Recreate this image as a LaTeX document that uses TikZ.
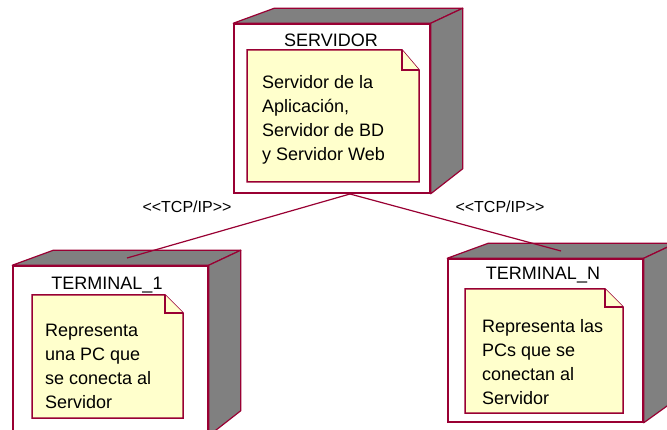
\documentclass[tikz,border=0pt]{standalone}
\usepackage{fontspec}
\setmainfont{Liberation Sans}
\usetikzlibrary{positioning, calc}
\definecolor{nodered}{RGB}{153, 0, 51}
\definecolor{sidegray}{RGB}{128, 128, 128}
\definecolor{noteyellow}{RGB}{255, 255, 204}

\begin{document}
\begin{tikzpicture}[x=1pt, y=-1pt,
    face/.style={draw=nodered, line width=1.5pt, fill=white, minimum width=196pt, inner sep=0pt},
    depth/.style={draw=nodered, line width=1.2pt, fill=sidegray, line join=round},
    nota/.style={draw=nodered, line width=1.5pt, fill=noteyellow},
    notetext/.style={align=left, anchor=north west, inner sep=0pt, font=\fontsize{18}{24}\selectfont},
    title/.style={anchor=base, inner sep=0pt, font=\fontsize{18}{20}\selectfont},
    link/.style={draw=nodered, line width=1.2pt}]

    % Page
    \useasboundingbox (0,0) rectangle (667,430);
    \clip (0,0) rectangle (667,430);
    \fill[white] (0,0) rectangle (667,430);

    % Server node
    \node[face, minimum height=169pt] (servidor) at (332,108.5) {};
    \draw[depth] (servidor.north west) -- ++(41,-15) -- ($(servidor.north east)+(32,-15)$) -- (servidor.north east) -- cycle;
    \draw[depth] (servidor.north east) -- ++(32,-15) -- ($(servidor.south east)+(32,-25)$) -- (servidor.south east) -- cycle;
    \node[title] (servidorLbl) at (331,47) {SERVIDOR};
    \draw[nota] (247,50) -- (402,50) -- (419,70) -- (419,182) -- (247,182) -- cycle;
    \draw[nota] (402,50) -- (402,70) -- (419,70);
    \node[notetext] (servidorNota) at (262,75) {Servidor de la\\Aplicación,\\Servidor de BD\\y Servidor Web};

    % Terminal 1
    \node[face, minimum width=195pt, minimum height=169pt] (term1) at (110.5,350.5) {};
    \draw[depth] (term1.north west) -- ++(41,-15) -- ($(term1.north east)+(32,-15)$) -- (term1.north east) -- cycle;
    \draw[depth] (term1.north east) -- ++(32,-15) -- ($(term1.south east)+(32,-25)$) -- (term1.south east) -- cycle;
    \node[title] (term1Lbl) at (107,290) {TERMINAL\_1};
    \draw[nota] (32,295) -- (165,295) -- (183,313) -- (183,418) -- (32,418) -- cycle;
    \draw[nota] (165,295) -- (165,313) -- (183,313);
    \node[notetext] (term1Nota) at (45,324) {Representa\\una PC que\\se conecta al\\Servidor};

    % Terminal N
    \node[face, minimum width=195pt, minimum height=163pt] (termN) at (545.5,340.5) {};
    \draw[depth] (termN.north west) -- ++(41,-15) -- ($(termN.north east)+(32,-15)$) -- (termN.north east) -- cycle;
    \draw[depth] (termN.north east) -- ++(32,-15) -- ($(termN.south east)+(32,-23)$) -- (termN.south east) -- cycle;
    \node[title] (termNLbl) at (543,280) {TERMINAL\_N};
    \draw[nota] (465,289) -- (605,289) -- (623,307) -- (623,413) -- (465,413) -- cycle;
    \draw[nota] (605,289) -- (605,307) -- (623,307);
    \node[notetext] (termNNota) at (482,319) {Representa las\\PCs que se\\conectan al\\Servidor};

    % Connections
    \coordinate (servidorBase) at (350,194);
    \coordinate (term1Top) at (127,258);
    \coordinate (termNTop) at (561,251);
    \draw[link] (servidorBase) -- (term1Top);
    \draw[link] (servidorBase) -- (termNTop);
    \node[title, font=\fontsize{16}{20}\selectfont] (tcpLeft) at (187,213) {{<}{<}TCP/IP{>}{>}};
    \node[title, font=\fontsize{16}{20}\selectfont] (tcpRight) at (500,213) {{<}{<}TCP/IP{>}{>}};
\end{tikzpicture}
\end{document}
